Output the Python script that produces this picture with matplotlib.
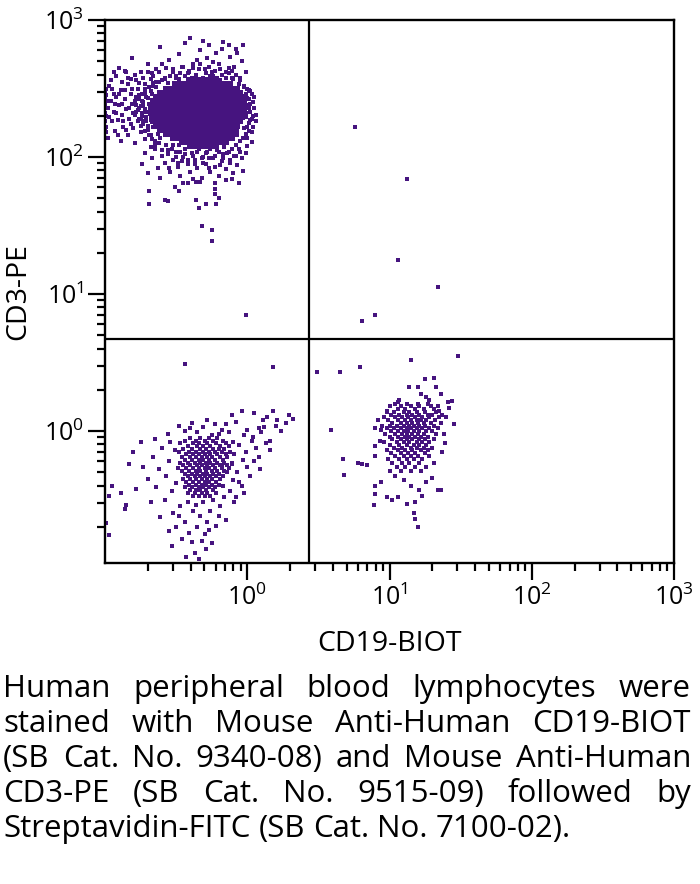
import matplotlib
matplotlib.use("Agg")
import matplotlib.pyplot as plt
from matplotlib.ticker import FixedLocator, NullFormatter
import numpy as np

plt.rcParams["font.family"] = ["Open Sans", "DejaVu Sans"]
plt.rcParams["mathtext.fontset"] = "custom"
plt.rcParams["mathtext.rm"] = "Open Sans"
plt.rcParams["mathtext.default"] = "regular"

# all event coordinates are log10 values in units of 0.01 decade
# CD3+ T cells, solid core: (CD3 level, [CD19 levels])
t_core_rows = [
    (256, [-41, -37, -34, -30, -26, -23]),
    (253, [-51, -47, -44, -41, -38, -34, -31, -28, -25, -21, -18, -15, -12]),
    (250, [-57, -53, -49, -46, -43, -40, -36, -33, -30, -27, -24, -20, -17, -14, -10, -7]),
    (247, [-61, -57, -54, -50, -47, -44, -41, -38, -35, -32, -29, -26, -23, -20, -16, -13, -9, -5]),
    (244, [-64, -61, -58, -55, -52, -49, -46, -43, -40, -37, -34, -31, -28, -25, -22, -19, -16, -13, -10, -6, -3]),
    (241, [-66, -63, -60, -57, -54, -51, -48, -45, -42, -39, -36, -33, -30, -27, -24, -21, -18, -15, -12, -9, -5, -2]),
    (238, [-67, -64, -61, -58, -55, -52, -49, -46, -43, -40, -37, -34, -31, -28, -25, -22, -19, -16, -13, -10, -7, -4]),
    (235, [-68, -65, -62, -59, -56, -53, -50, -47, -44, -41, -38, -35, -32, -29, -26, -23, -20, -17, -14, -11, -8, -5, -2]),
    (232, [-68, -65, -62, -59, -56, -53, -50, -47, -44, -41, -38, -35, -32, -29, -26, -23, -20, -17, -14, -11, -7, -4]),
    (229, [-67, -64, -61, -58, -55, -52, -49, -46, -42, -39, -36, -33, -30, -27, -24, -21, -18, -15, -12, -8, -4]),
    (226, [-66, -63, -60, -57, -54, -51, -48, -45, -42, -39, -36, -33, -30, -27, -24, -21, -18, -15, -12, -9, -5]),
    (223, [-64, -61, -58, -55, -51, -48, -45, -42, -39, -36, -33, -30, -27, -24, -21, -18, -15, -11, -7]),
    (220, [-61, -58, -55, -52, -49, -46, -43, -40, -37, -34, -31, -28, -25, -22, -19, -15, -12, -8]),
    (217, [-57, -54, -51, -48, -45, -42, -39, -36, -33, -30, -27, -24, -21, -18, -15, -11]),
    (214, [-52, -49, -46, -43, -40, -36, -33, -30, -27, -24, -21, -18, -15, -12]),
    (211, [-46, -43, -40, -37, -34, -31, -27, -24, -21, -18, -15]),
    (208, [-38, -35, -31, -28, -25, -22]),
]

# CD3+ T cells, events around the core: (CD19, CD3)
t_spread = [
    (-99, 222), (-98, 236), (-99, 245), (-97, 229), (-96, 241), (-98, 214), (-95, 250), (-94, 233), (-93, 219), (-92, 244),
    (-91, 227), (-90, 238), (-89, 212), (-89, 249), (-88, 231), (-87, 222), (-86, 242), (-85, 235), (-84, 216), (-84, 253),
    (-83, 228), (-82, 246), (-81, 239), (-80, 221), (-80, 232), (-79, 210), (-78, 244), (-77, 226), (-77, 250), (-76, 236),
    (-75, 218), (-74, 241), (-74, 230), (-73, 224), (-72, 247), (-72, 213), (-71, 233), (-70, 220), (-70, 243), (-69, 251),
    (-68, 227), (-68, 216), (-67, 246), (-66, 222), (-66, 254), (-65, 212), (-64, 251), (-63, 217), (-62, 255), (-61, 214),
    (-100, 239), (-99, 230), (-97, 252), (-95, 226), (-94, 246), (-93, 239), (-92, 232), (-91, 216), (-90, 246), (-88, 239),
    (-87, 226), (-86, 249), (-85, 220), (-83, 236), (-82, 224), (-81, 250), (-79, 241), (-78, 233), (-76, 245), (-75, 228),
    (-73, 238), (-71, 226), (-69, 239), (-67, 231), (-65, 238),
    (-100, 214), (-100, 220), (-100, 226), (-100, 232), (-100, 243), (-100, 248), (-99, 218), (-99, 236), (-99, 250), (-98, 241),
    (-96, 256), (-92, 259), (-88, 255), (-85, 262), (-82, 257), (-79, 260), (-76, 254), (-73, 258), (-70, 262), (-66, 259),
    (-90, 265), (-94, 262),
    (-72, 250), (-74, 246), (-71, 244), (-73, 240), (-75, 237), (-72, 235), (-74, 232), (-71, 229), (-73, 226), (-70, 223),
    (-72, 219), (-69, 216), (-67, 213), (-65, 209), (-62, 210), (-68, 248), (-66, 252), (-64, 255), (-60, 256), (-76, 242),
    (-77, 234), (-76, 228), (-75, 223), (-78, 238), (-79, 231),
    (-58, 257), (-54, 259), (-50, 258), (-47, 261), (-44, 259), (-41, 263), (-39, 258), (-36, 260), (-34, 264), (-31, 258),
    (-29, 261), (-26, 259), (-23, 263), (-21, 258), (-18, 260), (-15, 258), (-13, 261), (-10, 257), (-8, 260), (-5, 258),
    (-52, 264), (-46, 266), (-38, 265), (-27, 266), (-19, 264), (-11, 263), (-62, 262), (-57, 265), (-33, 268), (-24, 269),
    (-60, 205), (-56, 202), (-53, 206), (-50, 200), (-47, 204), (-44, 202), (-41, 207), (-38, 201), (-35, 204), (-32, 199),
    (-29, 203), (-26, 206), (-23, 201), (-20, 204), (-17, 199), (-14, 203), (-11, 206), (-8, 201), (-5, 204), (-42, 198),
    (-31, 196), (-19, 194), (-12, 198), (-49, 196), (-27, 192), (-37, 195), (-15, 210), (-10, 213), (-7, 216), (-52, 209),
    (0, 243), (1, 236), (-1, 232), (2, 227), (0, 222), (-1, 217), (1, 219), (-3, 214), (0, 250), (3, 246),
    (2, 239), (4, 230),
    (-40, 287), (-13, 282), (-3, 282), (-27, 282), (-61, 280), (-81, 272), (-86, 263), (-17, 284), (-8, 279), (-22, 276),
    (-33, 278), (-48, 275), (-55, 271), (-70, 268), (-12, 273), (-4, 270), (-28, 272), (-38, 268), (-45, 266), (-20, 268),
    (-64, 264), (-75, 262), (-52, 262), (-30, 264), (-9, 266), (-1, 262), (-15, 262), (-42, 261), (-58, 258), (-68, 257),
    (-78, 256), (-36, 258), (-24, 259), (-11, 258), (-5, 256), (-48, 257), (-33, 255), (-19, 256), (-72, 253), (-56, 254),
    (-6, 253), (-2, 251), (1, 249), (-50, 259), (-25, 262), (-7, 276), (-35, 271), (-60, 268), (-84, 258), (-18, 279),
    (-44, 283), (-31, 285), (-67, 261), (-13, 265), (-41, 262),
    (-1, 246), (1, 242), (0, 238), (2, 233), (-1, 229), (1, 225), (-2, 221), (3, 218), (0, 214), (4, 240),
    (5, 236), (3, 228), (6, 231), (5, 244), (6, 226), (2, 248), (4, 222), (0, 208), (-2, 252), (3, 211),
    (-74, 195), (-72, 203), (-70, 188), (-67, 199), (-65, 206), (-63, 192), (-61, 185), (-60, 201), (-58, 196), (-56, 205),
    (-54, 189), (-52, 198), (-50, 204), (-49, 193), (-47, 186), (-45, 200), (-44, 206), (-42, 195), (-40, 189), (-39, 203),
    (-37, 198), (-35, 192), (-34, 206), (-32, 185), (-31, 200), (-29, 195), (-28, 204), (-26, 189), (-24, 199), (-23, 193),
    (-21, 205), (-20, 186), (-18, 197), (-17, 202), (-15, 191), (-13, 204), (-12, 196), (-10, 188), (-9, 201), (-7, 194),
    (-6, 206), (-4, 199), (-3, 190), (-1, 203), (-55, 192), (-46, 197), (-38, 184), (-27, 199), (-16, 207), (-11, 184),
    (-68, 207), (-57, 209), (-48, 209), (-36, 210), (-8, 209), (-5, 212),
    (-69, 175), (-69, 166), (-58, 169), (-56, 168), (-51, 178), (-48, 175), (-36, 169), (-34, 163), (-29, 166), (-23, 181),
    (-23, 177), (-23, 173), (-20, 170), (-22, 166), (-32, 150), (-25, 147), (-25, 139), (-6, 181), (-15, 183), (-45, 181),
    (-42, 181), (-36, 182), (-33, 182), (-1, 85),
]

# double positive corner events
dp_events = [(76, 222), (112, 184), (106, 125), (134, 105), (90, 85), (81, 80)]

# double negative lymphocytes, core rows
dn_core_rows = [
    (-5, [-40, -33, -27, -21]),
    (-7, [-44, -36, -30, -24, -17]),
    (-9, [-47, -38, -34, -28, -22, -15]),
    (-11, [-42, -35, -31, -26, -19, -13]),
    (-13, [-45, -39, -33, -29, -24, -20, -16]),
    (-15, [-48, -41, -36, -31, -27, -23, -18, -12]),
    (-17, [-43, -38, -34, -30, -26, -21, -15]),
    (-19, [-46, -40, -36, -32, -28, -25, -19, -14]),
    (-21, [-44, -39, -34, -31, -27, -23, -17]),
    (-23, [-47, -42, -37, -33, -29, -26, -21, -16, -11]),
    (-25, [-45, -40, -35, -32, -28, -24, -19, -14]),
    (-27, [-43, -38, -34, -30, -27, -23, -18, -13]),
    (-29, [-46, -41, -36, -33, -29, -25, -21, -16]),
    (-31, [-44, -39, -35, -31, -28, -24, -20]),
    (-33, [-42, -37, -33, -30, -26, -22, -17]),
    (-35, [-45, -40, -36, -32, -28, -25, -19]),
    (-37, [-43, -38, -34, -30, -27, -22]),
    (-39, [-41, -36, -32, -29, -25, -20]),
    (-41, [-44, -39, -34, -31, -27, -23]),
    (-43, [-40, -36, -33, -29, -24]),
    (-45, [-42, -37, -32, -28, -22]),
    (-47, [-38, -34, -30, -26]),
]

dn_spread = [
    (-97, -47), (-97, -76), (-86, -57), (-85, -54), (-89, -45), (-95, -40), (-99, -67), (-80, -15), (-83, -24), (-73, -26),
    (-70, -35), (-66, -19), (-64, -41), (-62, -28), (-60, -12), (-58, -50), (-57, -33), (-55, -22), (-54, -8), (-53, -44),
    (-52, -60), (-51, -14), (-50, -38), (-49, -27), (-68, -52), (-75, -8), (-61, -63), (-56, -2), (-78, -42), (-65, -6),
    (-53, -84), (-37, -89), (-39, -81), (-32, -80), (-25, -82), (-46, -79), (-50, -70), (-44, -66), (-41, -74), (-35, -70),
    (-30, -75), (-28, -66), (-33, -62), (-38, -58), (-26, -58), (-22, -69), (-47, -55), (-42, -52), (-36, -54), (-31, -52),
    (-24, -50), (-19, -55), (-29, -86), (-43, -92), (-20, -62), (-34, -93), (-48, -62), (-55, -73), (-27, -72), (-16, -48),
    (-4, 15), (5, 13), (18, 15), (29, 12), (32, 9), (21, 8), (11, 8), (-11, 12), (-8, 7), (-28, 8),
    (-39, 6), (-48, 4), (-23, 5), (-15, 5), (-18, 1), (-40, 2), (0, 1), (8, 2), (12, 3), (16, -7),
    (20, 4), (10, -1), (4, -4), (-2, -3), (16, -14), (8, -19), (0, -26), (-6, -10), (-9, -17), (-3, -21),
    (-7, -30), (-10, -36), (-4, -40), (-12, -44), (-8, -48), (2, -33), (6, -12), (13, -9), (-1, -15), (3, -7),
    (24, 0), (27, 6), (14, 10), (-31, 3), (-35, -1), (-44, 0), (-13, -1), (-20, -2), (-25, -3), (9, -28),
    (-14, -30), (-11, -24), (-6, -37), (-9, -52), (-15, -65), (-2, -45), (5, -22), (-17, -40), (-18, -25), (-10, -8),
    (-44, 49), (18, 47),
]

# CD19+ B cells, core rows
b_core_rows = [
    (20, [104, 112, 120, 127]),
    (18, [100, 108, 115, 121, 129, 134]),
    (16, [106, 111, 118, 124, 131]),
    (14, [98, 103, 110, 114, 119, 125, 133]),
    (12, [101, 107, 112, 116, 121, 127, 130, 137]),
    (10, [96, 104, 109, 113, 118, 123, 128, 135]),
    (8, [99, 106, 111, 115, 119, 122, 126, 132]),
    (6, [102, 108, 112, 116, 120, 124, 129, 136]),
    (4, [95, 100, 105, 110, 114, 117, 121, 125, 131]),
    (2, [98, 103, 108, 112, 115, 119, 123, 128, 134]),
    (0, [101, 106, 110, 113, 117, 121, 126, 130]),
    (-2, [97, 104, 109, 112, 116, 120, 124, 133]),
    (-4, [100, 106, 111, 114, 118, 122, 127]),
    (-6, [102, 108, 112, 116, 121, 125, 131]),
    (-8, [96, 105, 110, 114, 119, 123, 128]),
    (-10, [100, 107, 112, 117, 121, 126]),
    (-12, [103, 109, 115, 119, 124, 130]),
    (-14, [98, 106, 111, 116, 122, 127]),
    (-16, [101, 108, 113, 118, 125]),
    (-18, [104, 110, 115, 120, 128]),
    (-20, [99, 107, 112, 117, 123]),
    (-23, [102, 109, 114, 121]),
    (-26, [105, 111, 118, 126]),
    (-29, [100, 108, 115, 122]),
]

b_spread = [
    (49, 43), (65, 43), (79, 47), (115, 52), (148, 55), (59, 1), (67, -20), (68, -32), (78, -23), (81, -24),
    (84, -25), (89, -54), (90, -40), (94, -37), (90, -46), (98, -48), (102, -50), (106, -48), (112, -53), (118, -52),
    (117, -60), (118, -64), (120, -70), (134, -43), (136, -43), (123, -47), (121, -43), (114, 32), (125, 38), (131, 39),
    (133, 32), (120, 32), (122, 27), (126, 25), (128, 23), (136, 27), (141, 21), (144, 22), (142, 17), (145, 5),
    (138, -2), (139, -9), (137, -15), (131, -23), (130, -34), (107, 23), (106, 21), (98, 15), (90, 2), (94, 1),
    (90, -18), (93, -7), (90, -11), (126, -37), (110, -36), (115, -40), (104, -33), (140, 10), (135, 15), (92, 8),
]

gate_x = 2.7
gate_y = 4.7

caption_lines = [
    "Human peripheral blood lymphocytes were",
    "stained with Mouse Anti-Human CD19-BIOT",
    "(SB Cat. No. 9340-08) and Mouse Anti-Human",
    "CD3-PE (SB Cat. No. 9515-09) followed by",
    "Streptavidin-FITC (SB Cat. No. 7100-02).",
]


def rows_to_xy(rows):
    xs, ys = [], []
    for ly, lxs in rows:
        xs += lxs
        ys += [ly] * len(lxs)
    return 10 ** (np.array(xs) / 100), 10 ** (np.array(ys) / 100)


def pairs_to_xy(pairs):
    a = np.array(pairs) / 100
    return 10 ** a[:, 0], 10 ** a[:, 1]


dot_color = "#46147f"

fig = plt.figure(figsize=(7, 8.84), dpi=100)
ax = fig.add_axes([105 / 700, 1 - 563 / 884, 569 / 700, 543 / 884])

for pop in (t_spread, dp_events, dn_spread, b_spread):
    x, y = pairs_to_xy(pop)
    ax.scatter(x, y, s=4.8, marker="s", color=dot_color, linewidths=0)
for rows in (dn_core_rows, b_core_rows):
    x, y = rows_to_xy(rows)
    ax.scatter(x, y, s=4.8, marker="s", color=dot_color, linewidths=0)
x, y = rows_to_xy(t_core_rows)
ax.scatter(x, y, s=16, marker="s", color=dot_color, linewidths=0)

ax.axvline(gate_x, color="black", lw=1.6)
ax.axhline(gate_y, color="black", lw=1.6)

ax.set_xscale("log")
ax.set_yscale("log")
ax.set_xlim(0.1, 1000)
ax.set_ylim(0.109, 1000)

major = FixedLocator([1, 10, 100, 1000])
minor = FixedLocator([m * 10.0 ** k for k in range(-1, 3) for m in range(2, 10)])
for axis in (ax.xaxis, ax.yaxis):
    axis.set_major_locator(major)
    axis.set_minor_locator(minor)
    axis.set_minor_formatter(NullFormatter())

ax.tick_params(which="major", length=12.5, width=1.6, labelsize=18, pad=3)
ax.tick_params(which="minor", length=5.5, width=1.6)
for sp in ax.spines.values():
    sp.set_linewidth(1.7)

ax.set_xlabel("CD19-BIOT", fontsize=20.5, labelpad=14)
ax.set_ylabel("CD3-PE", fontsize=20.5, labelpad=8)

# justified caption under the plot
fig.canvas.draw()
renderer = fig.canvas.get_renderer()
cap_size = 22.5
left_px, right_px = 3, 691
probe = fig.text(0, 0, "x x", fontsize=cap_size)
probe2 = fig.text(0, 0, "xx", fontsize=cap_size)
space_w = probe.get_window_extent(renderer).width - probe2.get_window_extent(renderer).width
probe.remove()
probe2.remove()
for i, line in enumerate(caption_lines):
    base_px = 697 + i * 35
    words = line.split()
    texts = [fig.text(0, 1 - base_px / 884, w, fontsize=cap_size, va="baseline") for w in words]
    widths = [t.get_window_extent(renderer).width for t in texts]
    if i < len(caption_lines) - 1:
        gap = (right_px - left_px - sum(widths)) / (len(words) - 1)
    else:
        gap = space_w
    xpos = left_px
    for t, w in zip(texts, widths):
        t.set_x(xpos / 700)
        xpos += w + gap

fig.savefig("out.png", dpi=100)
